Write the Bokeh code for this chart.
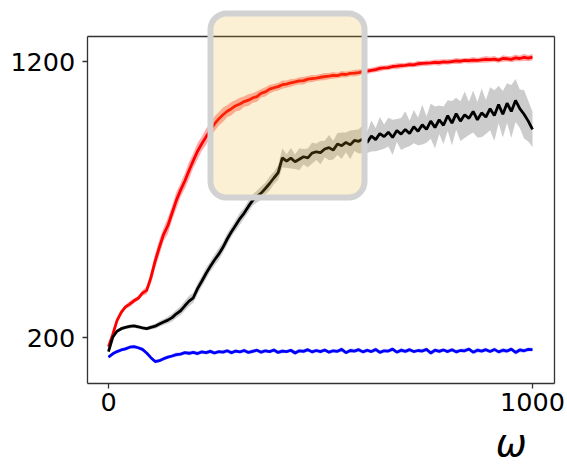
import numpy as np
from bokeh.plotting import figure
from bokeh.models import Range1d, FixedTicker, BoxAnnotation, Label, LinearAxis
from bokeh.embed import file_html
from bokeh.resources import INLINE

# omega values (step 10)
omega = list(range(0, 1001, 10))

red_mean = [168, 212, 262, 292, 312, 322, 334, 343, 362, 372,
            418, 478, 528, 575, 606, 652, 698, 735, 768, 806,
            842, 876, 903, 928, 951, 975, 993, 1008, 1021, 1030,
            1041, 1047, 1056, 1061, 1069, 1074, 1086, 1091, 1101, 1106,
            1110, 1117, 1119, 1124, 1127, 1131, 1132, 1137, 1139, 1141,
            1144, 1146, 1148, 1151, 1150, 1155, 1154, 1158, 1159, 1161,
            1164, 1166, 1169, 1172, 1176, 1178, 1179, 1183, 1184, 1186,
            1187, 1190, 1189, 1193, 1194, 1195, 1196, 1198, 1197, 1200,
            1199, 1201, 1203, 1202, 1205, 1204, 1206, 1205, 1207, 1209,
            1208, 1210, 1206, 1212, 1211, 1209, 1214, 1212, 1216, 1213, 1217]
red_sd = [6, 8, 10, 9, 8, 10, 9, 8, 10, 14,
          22, 26, 28, 24, 30, 26, 30, 25, 28, 31,
          27, 30, 26, 29, 25, 27, 24, 26, 22, 24,
          21, 23, 19, 21, 17, 19, 15, 17, 16, 14,
          14, 15, 13, 14, 12, 13, 14, 12, 13, 11,
          12, 13, 11, 12, 10, 12, 11, 10, 12, 11,
          10, 11, 9, 10, 11, 9, 10, 9, 11, 10,
          9, 10, 9, 11, 9, 10, 9, 10, 11, 9,
          10, 9, 11, 10, 9, 10, 11, 9, 10, 12,
          10, 11, 9, 12, 10, 11, 12, 10, 13, 11, 12]

black_mean = [150, 202, 224, 233, 238, 241, 243, 240, 236, 233,
              238, 242, 250, 257, 264, 273, 287, 298, 316, 333,
              345, 378, 405, 433, 458, 482, 503, 528, 558, 584,
              608, 632, 652, 676, 698, 712, 724, 741, 759, 779,
              798, 852, 840, 851, 838, 847, 856, 852, 869, 874,
              871, 884, 889, 880, 902, 896, 908, 899, 915, 912,
              920, 908, 931, 918, 940, 929, 945, 926, 951, 938,
              955, 940, 965, 948, 972, 955, 985, 962, 990, 970,
              1005, 978, 1012, 985, 1008, 995, 1020, 990, 1015, 1000,
              1030, 1005, 1045, 1010, 1050, 1020, 1060, 1030, 1010, 985, 955]
black_sd = [4, 6, 6, 7, 6, 7, 6, 7, 6, 7,
            8, 9, 10, 11, 12, 14, 15, 16, 18, 19,
            18, 20, 19, 21, 18, 20, 22, 19, 21, 18,
            20, 22, 19, 21, 20, 22, 24, 21, 25, 23,
            26, 35, 24, 38, 26, 40, 28, 34, 38, 30,
            42, 30, 46, 34, 40, 48, 36, 52, 38, 44,
            50, 38, 56, 42, 60, 44, 52, 64, 42, 58,
            66, 46, 60, 50, 72, 48, 64, 76, 52, 68,
            56, 80, 58, 72, 84, 60, 76, 64, 88, 62,
            78, 92, 68, 84, 72, 96, 78, 70, 88, 74, 64]

blue_mean = [130, 142, 150, 156, 160, 166, 168, 164, 158, 145,
             128, 114, 117, 124, 130, 134, 139, 141, 146, 144,
             147, 143, 149, 146, 151, 145, 150, 148, 153, 146,
             152, 149, 154, 147, 151, 155, 148, 153, 150, 156,
             147, 152, 150, 155, 145, 153, 151, 157, 149, 154,
             150, 156, 148, 153, 151, 158, 146, 154, 152, 157,
             149, 155, 150, 158, 147, 153, 152, 159, 148, 155,
             151, 157, 150, 154, 152, 158, 145, 155, 151, 156,
             150, 157, 149, 154, 153, 159, 148, 155, 152, 157,
             150, 158, 149, 155, 152, 159, 147, 156, 153, 158, 157]
blue_sd = [5, 6, 7, 6, 7, 6, 7, 6, 7, 6,
           6, 7, 6, 7, 6, 7, 8, 7, 6, 8,
           7, 8, 6, 7, 8, 7, 6, 8, 7, 8,
           7, 6, 8, 7, 8, 6, 8, 7, 6, 8,
           7, 8, 6, 7, 9, 7, 8, 6, 8, 7,
           8, 6, 7, 8, 7, 9, 6, 8, 7, 8,
           7, 8, 6, 9, 7, 8, 7, 8, 6, 9,
           7, 8, 7, 6, 8, 7, 9, 7, 8, 6,
           8, 7, 9, 6, 8, 7, 8, 9, 7, 8,
           6, 8, 7, 9, 8, 7, 8, 9, 7, 8, 7]

x_ticks = [0, 1000]
y_ticks = [200, 1200]
x_label = "ω"

# axes box (data limits) and highlighted region
x_lim = (-50, 1051)
y_lim = (34, 1291)
hl_x = (240.6, 603.8)
hl_y = (708, 1375)

W, H = 567, 466
p = figure(width=W, height=H, output_backend="svg", toolbar_location=None,
           x_range=Range1d(-254.7, 1082.5), y_range=Range1d(-266.3, 1422.1),
           x_axis_type=None, y_axis_type=None,
           min_border=0, min_border_left=0, min_border_right=0,
           min_border_top=0, min_border_bottom=0)
p.background_fill_color = "white"
p.border_fill_color = "white"
p.outline_line_color = None
p.grid.visible = False

xs = np.array(omega, dtype=float)
for mean, sd, col, a in [(red_mean, red_sd, "#ff0000", 0.33),
                         (black_mean, black_sd, "#000000", 0.2),
                         (blue_mean, blue_sd, "#0000ff", 0.2)]:
    m = np.array(mean, dtype=float)
    s = np.array(sd, dtype=float)
    p.varea(x=xs, y1=m - s, y2=m + s, fill_color=col, fill_alpha=a)
    p.line(xs, m, line_color=col, line_width=2.8)

spine = "#333333"

def style(ax):
    ax.major_label_text_font = "DejaVu Sans"
    ax.major_label_text_font_size = "25.5px"
    ax.major_label_text_color = "black"
    ax.axis_line_color = spine
    ax.axis_line_width = 1.3
    ax.major_tick_line_color = spine
    ax.major_tick_line_width = 1.3
    ax.major_tick_out = 5
    ax.major_tick_in = 0
    ax.minor_tick_line_color = None

xax = LinearAxis(fixed_location=y_lim[0], bounds=x_lim, ticker=FixedTicker(ticks=x_ticks))
style(xax)
xax.major_label_standoff = 4
p.add_layout(xax, "below")

yax = LinearAxis(fixed_location=x_lim[0], bounds=y_lim, ticker=FixedTicker(ticks=y_ticks))
style(yax)
yax.major_label_standoff = 7
p.add_layout(yax, "left")

rax = LinearAxis(fixed_location=x_lim[1], bounds=y_lim, ticker=FixedTicker(ticks=[]))
style(rax)
rax.major_tick_out = 0
p.add_layout(rax, "right")

tax = LinearAxis(fixed_location=y_lim[1], bounds=x_lim, ticker=FixedTicker(ticks=[]))
style(tax)
tax.major_tick_out = 0
p.add_layout(tax, "above")

box = BoxAnnotation(left=hl_x[0], right=hl_x[1], top=hl_y[1], bottom=hl_y[0],
                    fill_color="#f0b01b", fill_alpha=0.19,
                    line_color="#d2d2d2", line_alpha=1.0, line_width=6, border_radius=16)
p.add_layout(box)

lab = Label(x=950, y=-182, text=x_label, text_font="DejaVu Sans", text_font_style="italic",
            text_font_size="37px", text_align="center", text_baseline="middle",
            text_color="black")
p.add_layout(lab)

open("out.html", "w").write(file_html(p, INLINE))
